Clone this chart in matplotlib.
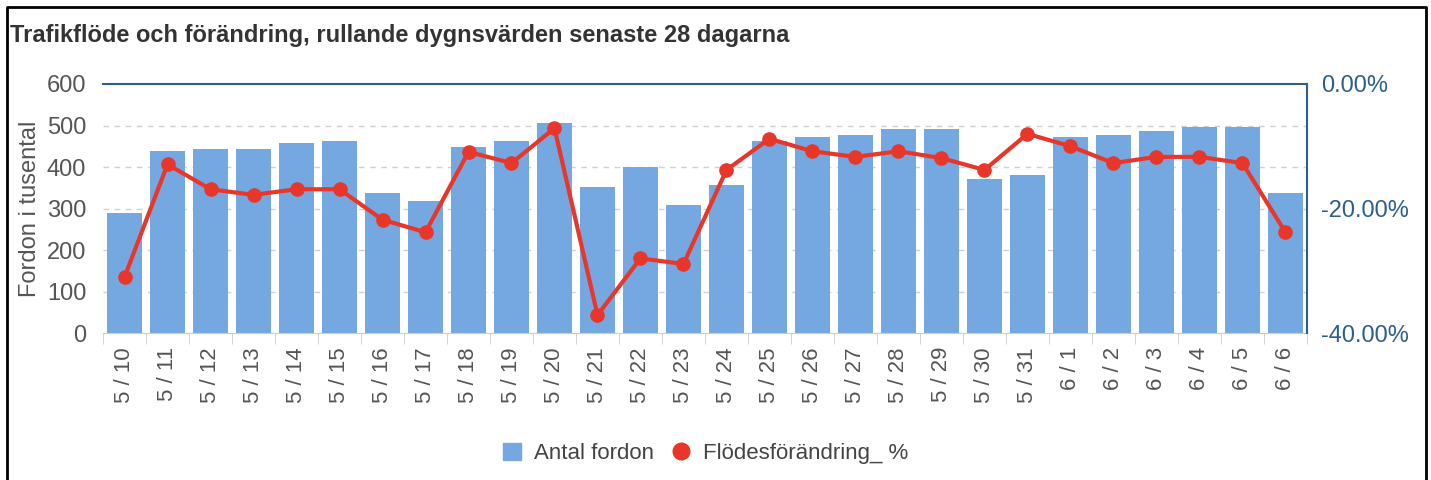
import numpy as np
import matplotlib
matplotlib.use('Agg')
import matplotlib.pyplot as plt
from matplotlib.lines import Line2D
from matplotlib.patches import Patch
from matplotlib.ticker import FuncFormatter, MultipleLocator

# --- data ---------------------------------------------------------------
dates = ['5 / 10', '5 / 11', '5 / 12', '5 / 13', '5 / 14', '5 / 15', '5 / 16',
         '5 / 17', '5 / 18', '5 / 19', '5 / 20', '5 / 21', '5 / 22', '5 / 23',
         '5 / 24', '5 / 25', '5 / 26', '5 / 27', '5 / 28', '5 / 29', '5 / 30',
         '5 / 31', '6 / 1', '6 / 2', '6 / 3', '6 / 4', '6 / 5', '6 / 6']
antal_fordon = [289, 438, 443, 443, 458, 463, 337, 318, 448, 463, 506, 352,
                400, 308, 357, 463, 472, 477, 492, 492, 371, 381, 472, 477,
                487, 496, 496, 337]
flodesforandring = [-31.0, -12.9, -16.9, -17.8, -16.9, -16.9, -21.8, -23.8,
                    -10.9, -12.7, -7.1, -37.1, -28.0, -28.9, -13.8, -8.8,
                    -10.8, -11.7, -10.8, -11.9, -13.8, -8.0, -10.0, -12.7,
                    -11.7, -11.7, -12.7, -23.8]

title = 'Trafikflöde och förändring, rullande dygnsvärden senaste 28 dagarna'

# --- style --------------------------------------------------------------
plt.rcParams['font.family'] = ['Liberation Sans', 'DejaVu Sans']
bar_color = '#75a8e0'
line_color = '#e8372a'
axis_blue = '#2d5f8e'
text_gray = '#555555'

fig = plt.figure(figsize=(14.31, 4.8), dpi=100)
ax = fig.add_axes([0.072, 0.306, 0.8413, 0.519])
ax2 = ax.twinx()

x = np.arange(len(dates))
ax.bar(x, antal_fordon, width=0.8, color=bar_color, zorder=2)
ax2.plot(x, flodesforandring, color=line_color, lw=3, marker='o', ms=9.5,
         zorder=3)

ax.set_xlim(-0.5, len(dates) - 0.5)
ax.set_ylim(0, 600)
ax2.set_ylim(-40, 0)

# grid
for v in range(100, 600, 100):
    ax.axhline(v, color='#d0d0d0', lw=1, ls=(0, (4, 4)), zorder=1)

# spines
ax.spines['left'].set_visible(False)
ax2.spines['left'].set_visible(False)
ax.spines['bottom'].set_color('#cccccc')
ax2.spines['bottom'].set_visible(False)
ax.spines['top'].set_color(axis_blue)
ax.spines['top'].set_linewidth(1.5)
ax.spines['right'].set_visible(False)
ax2.spines['top'].set_visible(False)
ax2.spines['right'].set_color(axis_blue)
ax2.spines['right'].set_linewidth(1.5)

# x ticks: labels at centers, tick marks at category boundaries
ax.set_xticks(x)
ax.set_xticklabels(dates, rotation=90, fontsize=16, color=text_gray)
ax.tick_params(axis='x', length=0, pad=10)
ax.set_xticks(np.arange(-0.5, len(dates)), minor=True)
ax.tick_params(axis='x', which='minor', length=8, color='#cccccc')

ax.yaxis.set_major_locator(MultipleLocator(100))
ax.tick_params(axis='y', length=0, labelsize=17, labelcolor=text_gray, pad=12)
ax.set_ylabel('Fordon i tusental', fontsize=17, color=text_gray, labelpad=4)

ax2.yaxis.set_major_locator(MultipleLocator(20))
ax2.yaxis.set_major_formatter(FuncFormatter(lambda v, p: f'{v:.2f}%'))
ax2.tick_params(axis='y', length=0, labelsize=17, labelcolor=axis_blue, pad=10)

fig.text(0.007, 0.927, title, fontsize=17, fontweight='bold', color='#333333',
         ha='left', va='center')

handles = [Patch(color=bar_color, label='Antal fordon'),
           Line2D([], [], color=line_color, marker='o', ls='none', ms=12,
                  label='Flödesförändring_ %')]
fig.legend(handles=handles, loc='center', bbox_to_anchor=(0.493, 0.056),
           ncol=2, frameon=False, fontsize=16, labelcolor='#444444',
           handlelength=0.8, handleheight=0.8, handletextpad=0.6,
           columnspacing=0.8)

# outer frame
fig.add_artist(Line2D([0.0049, 0.0049, 0.9965, 0.9965], [0, 0.985, 0.985, 0],
                      transform=fig.transFigure, color='black', lw=2))

fig.savefig('out.png', dpi=100)
